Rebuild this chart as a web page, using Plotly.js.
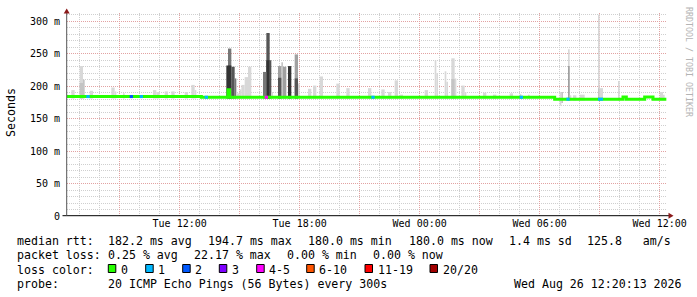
<!DOCTYPE html>
<html>
<head>
<meta charset="utf-8">
<script src="https://cdn.plot.ly/plotly-3.0.1.min.js"></script>
<style>
  html, body { margin: 0; padding: 0; background: #fff; }
  #chart { width: 697px; height: 297px; }
</style>
</head>
<body>
<div id="chart"></div>
<script>
// ---- Median round-trip time (ms), stepped: each value holds until the next sample time ----
const medianTime = [
  '2026-08-25 06:20', '2026-08-25 07:20', '2026-08-25 07:30', '2026-08-25 09:30', '2026-08-25 09:40',
  '2026-08-25 10:00', '2026-08-25 10:10', '2026-08-25 13:05', '2026-08-25 13:15', '2026-08-25 13:25',
  '2026-08-25 14:25', '2026-08-25 14:30', '2026-08-25 16:15', '2026-08-25 16:25', '2026-08-25 21:35',
  '2026-08-25 21:45', '2026-08-26 05:00', '2026-08-26 05:10', '2026-08-26 06:45', '2026-08-26 07:20',
  '2026-08-26 07:30', '2026-08-26 08:55', '2026-08-26 09:10', '2026-08-26 10:10', '2026-08-26 10:20',
  '2026-08-26 11:15', '2026-08-26 11:40'
];
const medianRtt = [
  184, 184, 184, 184, 184,
  184, 184, 183, 183, 183,
  194.7, 183, 183, 183, 183,
  183, 183, 183, 180, 180,
  180, 180, 180, 183.5, 180,
  183.5, 180
];
// pings lost out of 20 for each step
const medianLoss = [
  0, 1, 0, 2, 0,
  1, 0, 0, 1, 0,
  0, 0, 5, 0, 1,
  0, 1, 0, 0, 1,
  0, 1, 0, 0, 0,
  0, 0
];
const lastSample = '2026-08-26 12:20';

// ---- Smoke: spread of the 20 pings per sample (ms) ----
// start of sample, number of 5-minute samples, lowest ping, highest ping, ping density (1 sparse .. 6 dense)
const smokeStart = [
  '2026-08-25 06:35', '2026-08-25 07:00', '2026-08-25 07:00', '2026-08-25 07:10', '2026-08-25 07:30',
  '2026-08-25 08:35', '2026-08-25 08:45', '2026-08-25 09:10', '2026-08-25 10:40', '2026-08-25 10:50',
  '2026-08-25 11:15', '2026-08-25 11:35', '2026-08-25 12:15', '2026-08-25 12:35', '2026-08-25 12:45',
  '2026-08-25 14:20', '2026-08-25 14:25', '2026-08-25 14:25', '2026-08-25 14:35', '2026-08-25 14:45',
  '2026-08-25 14:50', '2026-08-25 15:00', '2026-08-25 15:05', '2026-08-25 15:15', '2026-08-25 15:25',
  '2026-08-25 16:10', '2026-08-25 16:20', '2026-08-25 16:20', '2026-08-25 16:30', '2026-08-25 16:35',
  '2026-08-25 16:55', '2026-08-25 16:55', '2026-08-25 17:05', '2026-08-25 17:10', '2026-08-25 17:25',
  '2026-08-25 17:45', '2026-08-25 17:45', '2026-08-25 17:55', '2026-08-25 18:25', '2026-08-25 18:40',
  '2026-08-25 19:00', '2026-08-25 19:50', '2026-08-25 20:20', '2026-08-25 21:25', '2026-08-25 22:05',
  '2026-08-25 22:25', '2026-08-25 22:45', '2026-08-25 23:00',
  '2026-08-26 00:15', '2026-08-26 00:45', '2026-08-26 00:50', '2026-08-26 01:15', '2026-08-26 01:20',
  '2026-08-26 01:35', '2026-08-26 01:35', '2026-08-26 01:45', '2026-08-26 02:05', '2026-08-26 02:15',
  '2026-08-26 03:10', '2026-08-26 03:40', '2026-08-26 04:30', '2026-08-26 05:00', '2026-08-26 05:25',
  '2026-08-26 07:00', '2026-08-26 07:05', '2026-08-26 07:25', '2026-08-26 07:25', '2026-08-26 07:30',
  '2026-08-26 07:40', '2026-08-26 08:00', '2026-08-26 08:55', '2026-08-26 08:55', '2026-08-26 09:00',
  '2026-08-26 09:55', '2026-08-26 12:00', '2026-08-26 12:10'
];
const smokeSteps = [
  2, 2, 2, 1, 2,
  2, 1, 1, 2, 2,
  2, 2, 2, 2, 1,
  1, 2, 2, 2, 1,
  2, 1, 2, 2, 2,
  2, 2, 2, 1, 1,
  2, 2, 1, 2, 2,
  2, 2, 1, 2, 2,
  2, 2, 2, 2, 2,
  2, 2, 2,
  2, 1, 1, 1, 1,
  2, 2, 1, 2, 1,
  2, 2, 2, 1, 1,
  1, 1, 1, 1, 1,
  2, 3, 1, 1, 2,
  1, 2, 1
];
const smokeLow = [
  181, 181, 181, 181, 181,
  181, 181, 181, 181, 181,
  181, 181, 181, 181, 181,
  181, 181, 181, 181, 181,
  181, 181, 181, 181, 181,
  181, 181, 181, 181, 181,
  181, 181, 181, 181, 181,
  181, 181, 181, 181, 181,
  181, 181, 181, 181, 181,
  181, 181, 181,
  181, 181, 181, 181, 181,
  181, 181, 181, 181, 181,
  181, 181, 181, 181, 181,
  170, 174, 178, 178, 178,
  178, 178, 178, 178, 178,
  178, 178, 178
];
const smokeHigh = [
  194, 231, 205, 210, 193,
  198, 192, 189, 194, 191,
  192, 192, 191, 202, 194,
  232, 258, 232, 230, 212,
  189, 195, 202, 214, 230,
  222, 282, 240, 240, 191,
  231, 213, 237, 230, 231,
  249, 212, 204, 196, 201,
  215, 204, 197, 197, 195,
  191, 209, 187,
  194, 240, 220, 223, 207,
  243, 211, 212, 201, 191,
  190, 187, 189, 188, 187,
  191, 191, 257, 231, 186,
  186, 187, 310, 197, 197,
  208, 191, 187
];
const smokeDensity = [
  1, 1, 2, 2, 1,
  1, 1, 1, 1, 1,
  1, 1, 1, 1, 1,
  6, 4, 6, 5, 4,
  1, 1, 1, 1, 1,
  4, 5, 6, 5, 1,
  3, 5, 2, 3, 6,
  3, 5, 1, 1, 1,
  1, 1, 1, 1, 1,
  1, 1, 1,
  1, 1, 1, 1, 1,
  1, 2, 1, 1, 1,
  1, 1, 1, 1, 1,
  1, 2, 1, 3, 1,
  1, 1, 1, 2, 1,
  1, 1, 1
];

// ---- Loss legend ----
const lossLabels = ['0', '1', '2', '3', '4-5', '6-10', '11-19', '20/20'];
const lossColors = ['#26ff00', '#00b8ff', '#0059ff', '#7e00ff', '#ff00ff', '#ff5500', '#ff0000', '#a10000'];

// ---- Summary figures ----
const rttAvg = 182.2, rttMax = 194.7, rttMin = 180.0, rttNow = 180.0, rttSd = 1.4, rttAmS = 125.8;
const lossAvg = 0.25, lossMax = 22.17, lossMin = 0.00, lossNow = 0.00;
const probeText = '20 ICMP Echo Pings (56 Bytes) every 300s';
const stampText = 'Wed Aug 26 12:20:13 2026';

// ---- y axis ticks (ms) ----
const yTickVals = [0, 50, 100, 150, 200, 250, 300];
const yTickText = ['0', '50 m', '100 m', '150 m', '200 m', '250 m', '300 m'];
const yMinorVals = [10, 20, 30, 40, 60, 70, 80, 90, 110, 120, 130, 140, 160, 170, 180, 190,
                    210, 220, 230, 240, 260, 270, 280, 290, 310];

// ------------------------------------------------------------------
const W = 697, H = 297, ML = 67, MR = 30, MT = 13, MB = 81;
const PW = W - ML - MR, PH = H - MT - MB;
const px = x => (x - ML) / PW;
const py = y => (H - MB - y) / PH;
const MONO = 'DejaVu Sans Mono, monospace';
const nb = s => s.replace(/ /g, '\u00a0');

function lossClass(n) {
  if (n <= 3) return n;
  if (n <= 5) return 4;
  if (n <= 10) return 5;
  if (n <= 19) return 6;
  return 7;
}
const densityGray = ['#ffffff', '#d8d8d8', '#c4c4c4', '#a0a0a0', '#777777', '#555555', '#333333'];

// smoke bars, taller bands underneath so the denser cores stay visible
const order = smokeStart.map((_, i) => i).sort((a, b) => (smokeHigh[b] - smokeLow[b]) - (smokeHigh[a] - smokeLow[a]));
const smoke = {
  type: 'bar',
  x: order.map(i => smokeStart[i]),
  y: order.map(i => smokeHigh[i] - smokeLow[i]),
  base: order.map(i => smokeLow[i]),
  width: order.map(i => smokeSteps[i] * 300000),
  offset: 0,
  marker: { color: order.map(i => densityGray[smokeDensity[i]]), line: { width: 0 } },
  hoverinfo: 'skip',
  showlegend: false
};

// median line (green base) ...
const medianLine = {
  type: 'scatter', mode: 'lines',
  x: medianTime.concat([lastSample]),
  y: medianRtt.concat([medianRtt[medianRtt.length - 1]]),
  line: { color: lossColors[0], width: 3, shape: 'hv' },
  hoverinfo: 'skip', showlegend: false
};

// ... recoloured where pings were lost
const lossTraces = [];
for (let c = 1; c < lossColors.length; c++) {
  const xs = [], ys = [];
  medianTime.forEach((t, i) => {
    if (medianLoss[i] > 0 && lossClass(medianLoss[i]) === c) {
      const tEnd = i + 1 < medianTime.length ? medianTime[i + 1] : lastSample;
      xs.push(t, tEnd, null);
      ys.push(medianRtt[i], medianRtt[i], null);
    }
  });
  if (xs.length) {
    lossTraces.push({
      type: 'scatter', mode: 'lines', x: xs, y: ys,
      line: { color: lossColors[c], width: 3 },
      connectgaps: false, hoverinfo: 'skip', showlegend: false
    });
  }
}

// ---- text under the graph ----
const rowY = [241, 255.5, 269.5, 283.5];
const textItems = [
  ['median rtt:', 16, 0],
  [rttAvg.toFixed(1) + ' ms avg', 107.3, 0],
  [rttMax.toFixed(1) + ' ms max', 207.3, 0],
  [rttMin.toFixed(1) + ' ms min', 307.3, 0],
  [rttNow.toFixed(1) + ' ms now', 407.5, 0],
  [rttSd.toFixed(1) + ' ms sd', 508, 0],
  [rttAmS.toFixed(1) + '   am/s', 586, 0],
  ['packet loss:', 16, 1],
  [lossAvg.toFixed(2) + ' % avg', 107.3, 1],
  [lossMax.toFixed(2) + ' % max', 193.3, 1],
  [lossMin.toFixed(2) + ' % min', 286.3, 1],
  [lossNow.toFixed(2) + ' % now', 372.3, 1],
  ['loss color:', 16, 2],
  ['probe:', 16, 3],
  [probeText, 107.3, 3],
  [stampText, 512.7, 3]
];
const boxX = [108.3, 145.7, 182.7, 219.3, 256.7, 306.7, 365, 430];
lossLabels.forEach((lab, i) => textItems.push([lab, boxX[i] + 11.7, 2]));

const annotations = textItems.map(([t, x, r]) => ({
  xref: 'paper', yref: 'paper', x: px(x - 1), y: py(rowY[r]),
  xanchor: 'left', yanchor: 'middle', showarrow: false,
  text: nb(t), font: { family: MONO, size: 11.6, color: '#000' }
}));

annotations.push({
  xref: 'paper', yref: 'paper', x: px(11), y: py(113),
  xanchor: 'center', yanchor: 'middle', showarrow: false, textangle: -90,
  text: 'Seconds', font: { family: MONO, size: 11.6, color: '#000' }
});
annotations.push({
  xref: 'paper', yref: 'paper', x: px(689), y: py(5),
  xanchor: 'center', yanchor: 'top', showarrow: false, textangle: 90,
  text: nb('RRDTOOL / TOBI OETIKER'), font: { family: MONO, size: 8.3, color: '#b4b4b4' }
});

const shapes = [];
// legend swatches
lossColors.forEach((col, i) => {
  shapes.push({
    type: 'rect', xref: 'paper', yref: 'paper',
    x0: px(boxX[i]), x1: px(boxX[i] + 7.5), y0: py(272.5), y1: py(264.5),
    fillcolor: col, line: { color: '#000', width: 1 }
  });
});
// axis lines with arrow heads
shapes.push({ type: 'line', xref: 'paper', yref: 'paper', x0: px(62.5), x1: px(669), y0: py(215.7), y1: py(215.7),
  line: { color: '#000', width: 1 } });
shapes.push({ type: 'line', xref: 'paper', yref: 'paper', x0: px(66.7), x1: px(66.7), y0: py(215.7), y1: py(11),
  line: { color: '#555', width: 1 } });
shapes.push({ type: 'path', xref: 'paper', yref: 'paper',
  path: `M ${px(668.5)} ${py(212.7)} L ${px(673.5)} ${py(215.7)} L ${px(668.5)} ${py(218.7)} Z`,
  fillcolor: '#8b1a1a', line: { width: 0 } });
shapes.push({ type: 'path', xref: 'paper', yref: 'paper',
  path: `M ${px(63.7)} ${py(13.5)} L ${px(66.7)} ${py(8.5)} L ${px(69.7)} ${py(13.5)} Z`,
  fillcolor: '#8b1a1a', line: { width: 0 } });

const gridMinor = '#cfcfcf', gridMajor = '#e2a2a2';

const layout = {
  width: W, height: H,
  margin: { l: ML, r: MR, t: MT, b: MB, pad: 0 },
  paper_bgcolor: '#fff', plot_bgcolor: '#fff',
  showlegend: false,
  barmode: 'overlay',
  xaxis: {
    type: 'date',
    range: ['2026-08-25 06:22', '2026-08-26 12:22'],
    tickmode: 'linear', tick0: '2026-08-25 00:00', dtick: 10800000,
    ticklabelstep: 2,
    tickformat: '%a %H:%M',
    tickfont: { family: MONO, size: 10, color: '#000' },
    ticks: '',
    showline: false, zeroline: false,
    showgrid: true, gridcolor: gridMajor, griddash: '1px,1px', gridwidth: 1,
    minor: { tickmode: 'linear', tick0: '2026-08-25 00:00', dtick: 3600000,
             showgrid: true, gridcolor: gridMinor, griddash: '1px,1px', gridwidth: 1, ticks: '' },
    fixedrange: true
  },
  yaxis: {
    range: [0, 312.8],
    tickmode: 'array', tickvals: yTickVals, ticktext: yTickText,
    tickfont: { family: MONO, size: 10, color: '#000' },
    ticks: '', ticklabelstandoff: 6,
    showline: false, zeroline: false,
    showgrid: true, gridcolor: gridMajor, griddash: '1px,1px', gridwidth: 1,
    minor: { tickmode: 'array', tickvals: yMinorVals,
             showgrid: true, gridcolor: gridMinor, griddash: '1px,1px', gridwidth: 1, ticks: '' },
    fixedrange: true
  },
  annotations: annotations,
  shapes: shapes
};

Plotly.newPlot('chart', [smoke, medianLine].concat(lossTraces), layout,
  { staticPlot: true, displayModeBar: false });
</script>
</body>
</html>
